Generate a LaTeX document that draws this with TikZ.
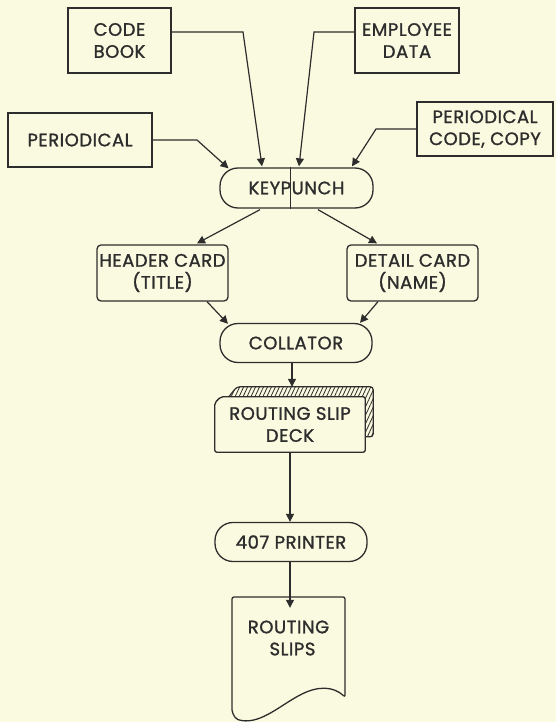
\documentclass[tikz,border=0pt]{standalone}
\usepackage{fontspec}
\setmainfont{Poppins}[FakeBold=1.3, LetterSpace=3]
\usetikzlibrary{calc,arrows.meta,patterns.meta}
\definecolor{paper}{RGB}{250,250,224}
\definecolor{ink}{RGB}{45,45,45}
\begin{document}
\begin{tikzpicture}[x=1pt,y=-1pt,
  every node/.style={font=\fontsize{18}{22}\selectfont, text=ink, align=center, inner sep=0pt},
  box/.style={draw=ink, line width=1.3pt, minimum width=#1, minimum height=55},
  box/.default=104,
  card/.style={box=#1, rounded corners=4pt},
  term/.style={draw=ink, line width=1.3pt, rounded corners=18pt, minimum width=152, minimum height=39},
  flow/.style={draw=ink, line width=1.2pt, -{Triangle[length=8pt,width=8pt]}},
  edge/.style={draw=ink, line width=1.2pt}]
  % paper
  \fill[paper] (0,0) rectangle (556,722);
  \useasboundingbox (0,0) rectangle (556,722);

  % sources
  \node[box=103, minimum height=65] (codebook) at (119.5,40.5) {CODE\\BOOK};
  \node[box=104, minimum height=65] (employee) at (407,40.5) {EMPLOYEE\\DATA};
  \node[box=144, minimum height=54] (periodical) at (80,140) {PERIODICAL};
  \node[box=136, minimum height=54] (pcc) at (485,129) {PERIODICAL\\CODE, COPY};

  % keypunch with its split line
  \node[term, minimum width=153, minimum height=40] (keypunch) at (296.5,188) {KEYPUNCH};
  \draw[edge, line width=0.9pt] ($(keypunch.north)+(-6.5,0)$) -- ($(keypunch.south)+(-6.5,0)$);

  % cards
  \node[card=131, minimum height=56] (header) at (162.5,273) {HEADER CARD\\(TITLE)};
  \node[card=131, minimum height=56] (detail) at (412.5,273) {DETAIL CARD\\(NAME)};

  \node[term] (collator) at (296,343) {COLLATOR};

  % routing slip deck
  \node[minimum width=150, minimum height=55] (deck) at (290,424.5) {ROUTING SLIP\\DECK};
  \fill[pattern={Lines[angle=65,distance=3.6pt,line width=0.8pt]}, pattern color=ink]
    ($(deck.north west)+(14,0)$) -- ($(deck.north west)+(22,-10)$) -- ($(deck.north east)+(8,-10)$)
    -- ($(deck.north east)+(8,40)$) -- ($(deck.north east)+(0,40)$) -- (deck.north east) -- cycle;
  \draw[edge, rounded corners=3pt] ($(deck.north west)+(14,0)$) -- ($(deck.north west)+(22,-10)$)
    -- ($(deck.north east)+(8,-10)$) -- ($(deck.north east)+(8,40)$) -- ($(deck.north east)+(0,40)$);
  \draw[edge, line width=1.3pt, rounded corners=2pt] ($(deck.north west)+(6,0)$) -- (deck.north east)
    -- (deck.south east) -- (deck.south west) -- ($(deck.north west)+(0,6)$) -- cycle;

  \node[term] (printer) at (291,542) {407 PRINTER};

  % routing slips document
  \node[minimum width=113, minimum height=60] (slips) at (288.5,638) {ROUTING\\\hspace*{8pt}SLIPS};
  \draw[edge, line width=1.3pt, rounded corners=2pt]
    (232,597) -- (345,597) -- (345,697)
    .. controls (333,686) and (318,686) .. (300,695)
    .. controls (278,707) and (258,726) .. (236,719) -- (232,712) -- cycle;

  % inputs to keypunch
  \draw[flow] ($(codebook.east)+(0,-8.5)$) -- (243,32) -- ($(keypunch.north)+(-34.5,-1)$);
  \draw[flow] ($(employee.west)+(0,-8.5)$) -- (314,32) -- ($(keypunch.north)+(2.5,-1)$);
  \draw[flow] (periodical.east) -- (197,140) -- ($(keypunch.north)+(-68,1)$);
  \draw[flow] (pcc.west) -- (376,129) -- ($(keypunch.north)+(55.5,-1)$);

  % keypunch to cards
  \draw[flow] ($(keypunch.south)+(-36.5,1)$) -- ($(header.north)+(34.5,-1)$);
  \draw[flow] ($(keypunch.south)+(21.5,1)$) -- ($(detail.north)+(-35.5,-1)$);

  % cards to collator
  \draw[flow] ($(header.south)+(44.5,0)$) -- ($(collator.north)+(-68,1)$);
  \draw[flow] ($(detail.south)+(-34.5,0)$) -- ($(collator.north)+(64,0)$);

  % down the line
  \draw[flow] ($(collator.south)+(-4,0)$) -- ($(deck.north)+(2,-10)$);
  \draw[flow] (deck.south) -- (printer.north -| deck.south);
  \draw[flow] (printer.south -| deck.south) -- (slips.north -| deck.south);
\end{tikzpicture}
\end{document}
